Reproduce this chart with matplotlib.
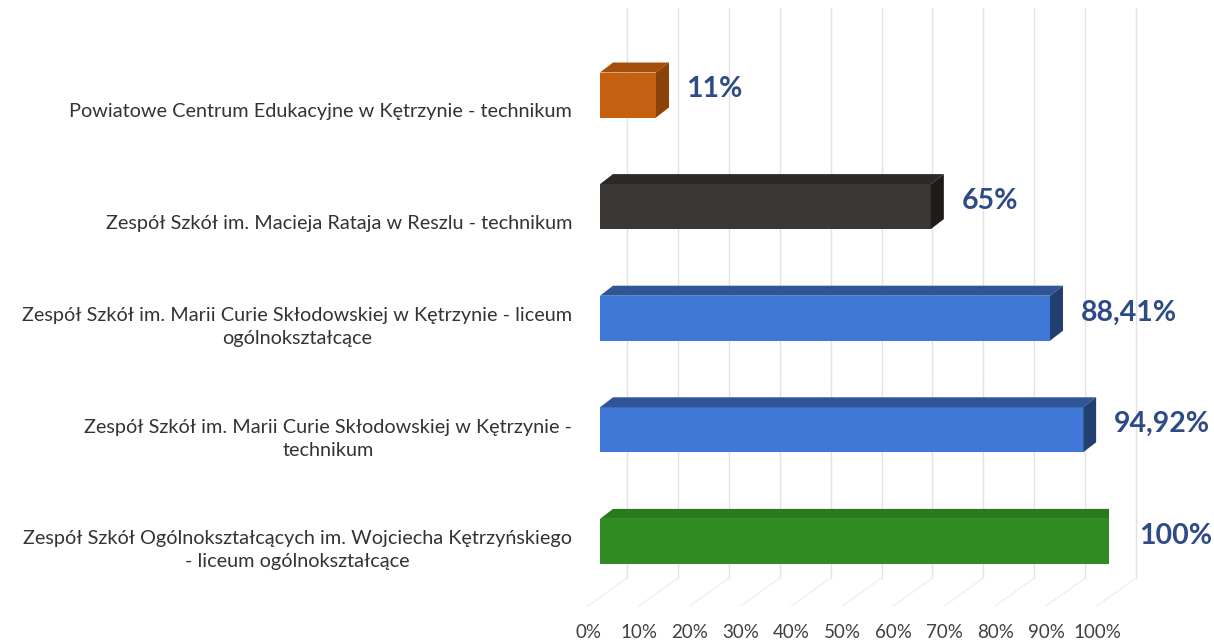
import matplotlib
matplotlib.use("Agg")
import matplotlib.pyplot as plt
from matplotlib.patches import Polygon

# ── data ─────────────────────────────────────────────────────────────────────
categories = [
    "Powiatowe Centrum Edukacyjne w Kętrzynie - technikum",
    "Zespół Szkół im. Macieja Rataja w Reszlu - technikum",
    "Zespół Szkół im. Marii Curie Skłodowskiej w Kętrzynie - liceum\nogólnokształcące",
    "Zespół Szkół im. Marii Curie Skłodowskiej w Kętrzynie -\ntechnikum",
    "Zespół Szkół Ogólnokształcących im. Wojciecha Kętrzyńskiego\n- liceum ogólnokształcące",
]
values = [11, 65, 88.41, 94.92, 100]
value_labels = ["11%", "65%", "88,41%", "94,92%", "100%"]
ticks = [0, 10, 20, 30, 40, 50, 60, 70, 80, 90, 100]
tick_labels = [f"{t}%" for t in ticks]

# (front, top, side) shades per bar
colors = [
    ("#c4600f", "#a34f0b", "#8a4209"),
    ("#3b3734", "#2b2826", "#1e1c1b"),
    ("#3f78d6", "#2f5596", "#22406f"),
    ("#3f78d6", "#2f5596", "#22406f"),
    ("#2f8c22", "#287a1c", "#1d5e14"),
]

W, H = 1214, 644
fig = plt.figure(figsize=(W / 100, H / 100), dpi=100)
fig.patch.set_facecolor("white")

# axes: x=0 at px 600, x=100 at px 1109; full height
x0_px, x100_px = 600, 1109
ax = fig.add_axes([x0_px / W, 0, (x100_px - x0_px) / W, 1])
ax.set_xlim(0, 100)
px_x = (x100_px - x0_px) / 100.0          # pixels per %
row_px = 111.6                            # pixels per category
c0_px = 95                                # centre of first bar from top
ax.set_ylim(len(values) - 1 + (H - (c0_px + row_px * (len(values) - 1))) / row_px,
            -c0_px / row_px)
ax.axis("off")

def py(pix):  # pixel-from-top -> data y
    return (pix - c0_px) / row_px

# depth of the 3D look
dx, dy = 13 / px_x, 10 / row_px
back = 27 / px_x          # back wall offset for gridlines
front = -12 / px_x        # floor front edge offset

# gridlines on back wall + floor
for t, tl in zip(ticks, tick_labels):
    ax.plot([t + back, t + back], [py(8), py(578)], color="#e2e2e2", lw=1.0,
            zorder=0, clip_on=False)
    ax.plot([t + back, t + front], [py(578), py(606)], color="#efefef", lw=1.0,
            zorder=0, clip_on=False)
    ax.text(t + front, py(633), tl, ha="center", va="center",
            fontsize=13.5, color="#404040", family="Lato")

h = 45 / row_px
for i, (v, (cf, ct, cs)) in enumerate(zip(values, colors)):
    top, bot = i - h / 2, i + h / 2
    ax.barh(i, v, height=h, left=0, color=cf, edgecolor="none", zorder=3)
    ax.add_patch(Polygon([(0, top), (v, top), (v + dx, top - dy), (dx, top - dy)],
                         closed=True, facecolor=ct, edgecolor="none", zorder=3))
    ax.add_patch(Polygon([(v, top), (v + dx, top - dy), (v + dx, bot - dy), (v, bot)],
                         closed=True, facecolor=cs, edgecolor="none", zorder=3))
    ax.text(v + 6.0, i - 0.05, value_labels[i], ha="left", va="center",
            fontsize=20.5, fontweight="bold", color="#2e4a87", family="Lato",
            clip_on=False)

for i, lab in enumerate(categories):
    off = 0.15 if "\n" not in lab else 0.08
    ax.text((572 - x0_px) / px_x, i + off, lab, ha="right", va="center",
            multialignment="center", fontsize=14.3, color="#333333",
            family="Lato", linespacing=1.45, clip_on=False)

fig.savefig("out.png", dpi=100)
